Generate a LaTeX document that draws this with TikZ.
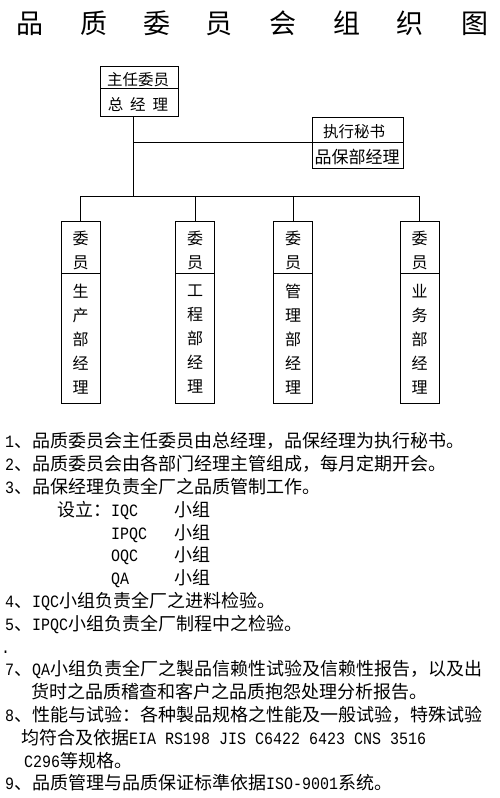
\documentclass[tikz,border=0pt]{standalone}
\usepackage{fontspec}
\setmainfont{Noto Sans CJK SC}
\newfontfamily\lat{Liberation Mono}[Scale=0.96, FakeStretch=0.868]
\begin{document}
\begin{tikzpicture}[x=1pt,y=-1pt,
  ln/.style={line width=1pt, black},
  cell/.style={draw, line width=1pt, inner sep=0},
  ttl/.style={font=\fontsize{27}{27}\selectfont, anchor=base, inner sep=0},
  bt/.style={font=\fontsize{15.5}{15.5}\selectfont, inner sep=0},
  vt/.style={font=\fontsize{16}{24}\selectfont, align=center, inner sep=0},
  txt/.style={font=\fontsize{18}{18}\selectfont, anchor=base west, inner sep=0}]
\useasboundingbox (0,0) rectangle (500,798);
\fill[white] (0,0) rectangle (500,798);
% title
\foreach \c/\xx [count=\i] in {品/30,质/94,委/157,员/219,会/283,组/347,织/410,图/475}
  \node[ttl] (t\i) at (\xx,33) {\c};
% chairman box
\node[cell, minimum width=78, minimum height=22] (chT) at (139,77) {};
\node[cell, minimum width=78, minimum height=28] (chB) at (139,102) {};
\node[bt] (chTt) at (138,80) {主任委员};
\node[bt] (chBt) at (138,105) {总\hspace{7pt}经\hspace{7pt}理};
% secretary box
\node[cell, minimum width=91, minimum height=25] (secT) at (357.5,129.5) {};
\node[cell, minimum width=91, minimum height=26] (secB) at (357.5,155) {};
\node[bt] (secTt) at (354,132) {执行秘书};
\node[bt, font=\fontsize{17}{17}\selectfont] (secBt) at (357,157) {品保部经理};
% member boxes
\foreach \xx/\a/\b/\c/\d/\e [count=\i] in {80.5/生/产/部/经/理,195/工/程/部/经/理,293/管/理/部/经/理,419.5/业/务/部/经/理}{
  \node[cell, minimum width=39, minimum height=52] (m\i T) at (\xx,247) {};
  \node[cell, minimum width=39, minimum height=130] (m\i B) at (\xx,338) {};
  \node[vt] (m\i Tt) at (\xx,250.5) {委\\员};
  \node[vt] (m\i Bt) at (\xx,339.5) {\a\\\b\\\c\\\d\\\e};
}
% connectors
\coordinate (j0) at (133,142);
\coordinate (j1) at (133,196);
\draw[ln] (j0 |- chB.south) -- (j1);
\draw[ln] (j0) -- (j0 -| secT.south west);
\draw[ln] (m1T.north |- j1) -- (m4T.north |- j1);
\foreach \i in {1,2,3,4}
  \draw[ln] (m\i T.north |- j1) -- (m\i T.north);
% notes
\node[txt] (l0) at (5,447.8) {{\lat 1}、品质委员会主任委员由总经理，品保经理为执行秘书。};
\node[txt] (l1) at (5,470.6) {{\lat 2}、品质委员会由各部门经理主管组成，每月定期开会。};
\node[txt] (l2) at (5,493.4) {{\lat 3}、品保经理负责全厂之品质管制工作。};
\node[txt] (l3) at (57,516.2) {设立：};
\node[txt] (g1) at (111,516.2) {\lat IQC};
\node[txt] (g1b) at (174,516.2) {小组};
\node[txt] (g2) at (111,539.0) {\lat IPQC};
\node[txt] (g2b) at (174,539.0) {小组};
\node[txt] (g3) at (111,561.8) {\lat OQC};
\node[txt] (g3b) at (174,561.8) {小组};
\node[txt] (g4) at (111,584.6) {\lat QA};
\node[txt] (g4b) at (174,584.6) {小组};
\node[txt] (l7) at (5,607.4) {{\lat 4}、{\lat IQC}小组负责全厂之进料检验。};
\node[txt] (l8) at (5,630.2) {{\lat 5}、{\lat IPQC}小组负责全厂制程中之检验。};
\node[txt] (l9) at (1,653.0) {\lat .};
\node[txt] (l10) at (5,675.8) {{\lat 7}、{\lat QA}小组负责全厂之製品信赖性试验及信赖性报告，以及出};
\node[txt] (l11) at (31,698.6) {货时之品质稽查和客户之品质抱怨处理分析报告。};
\node[txt] (l12) at (5,721.4) {{\lat 8}、性能与试验：各种製品规格之性能及一般试验，特殊试验};
\node[txt] (l13) at (21,744.2) {均符合及依据{\lat EIA RS198 JIS C6422 6423 CNS 3516}};
\node[txt] (l14) at (24,767.0) {{\lat C296}等规格。};
\node[txt] (l15) at (5,789.8) {{\lat 9}、品质管理与品质保证标準依据{\lat ISO-9001}系统。};
\end{tikzpicture}
\end{document}
